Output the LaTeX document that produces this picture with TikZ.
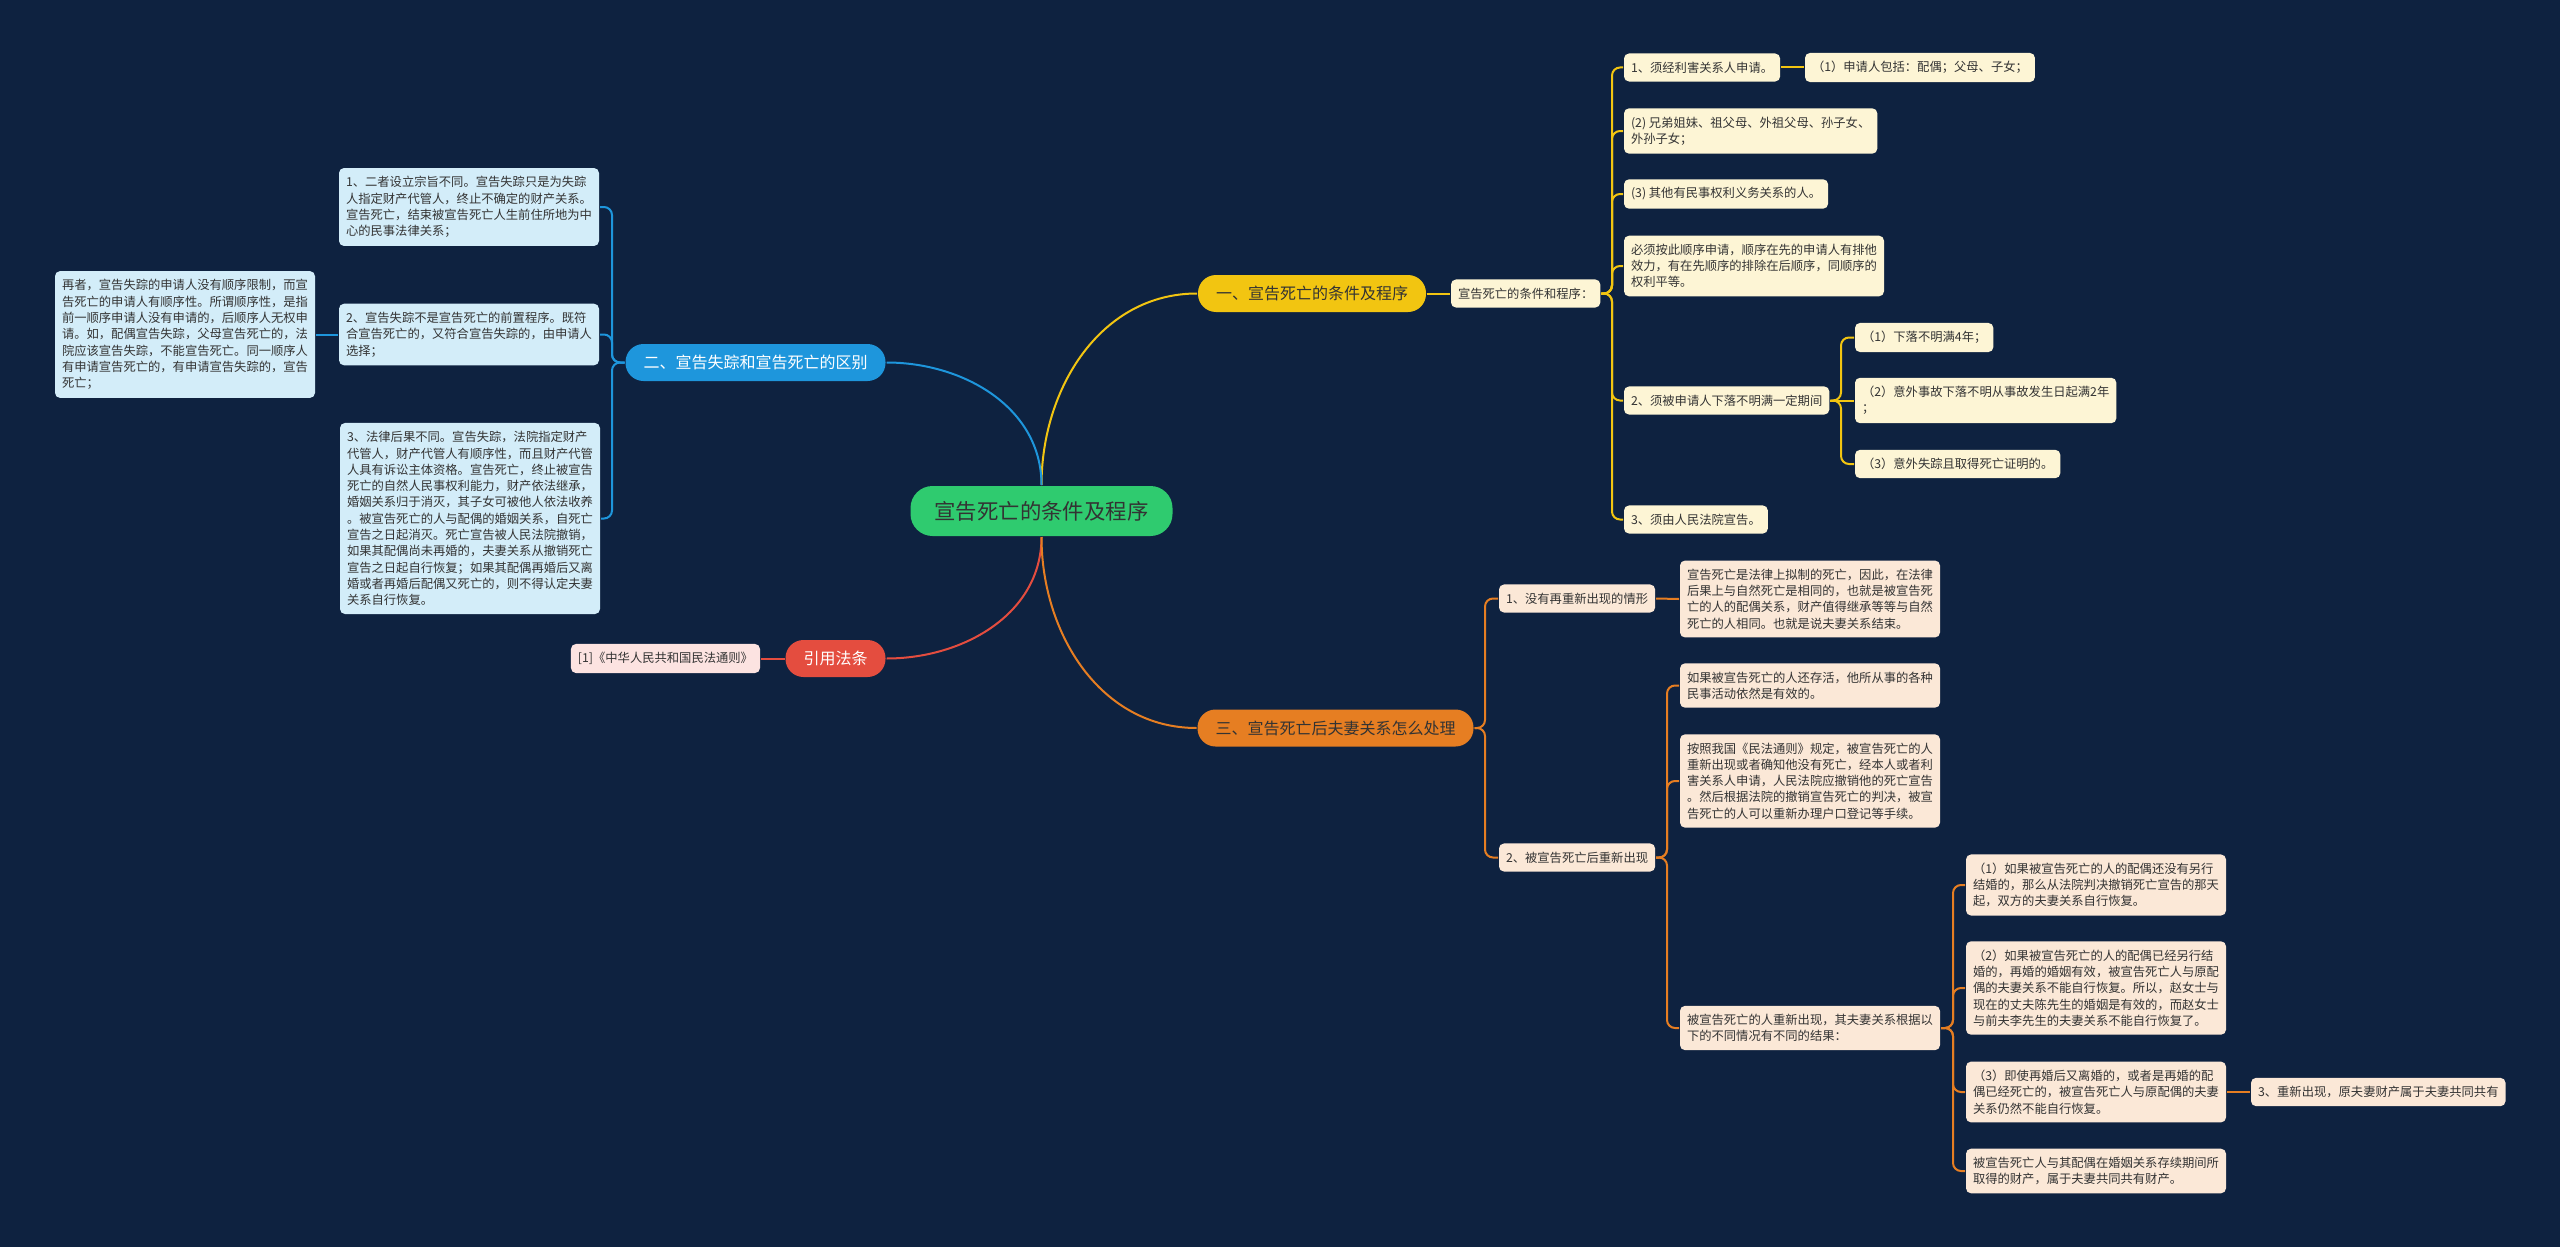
\documentclass[tikz,border=0pt]{standalone}
\usepackage{fontspec}
\setmainfont{Noto Sans CJK SC}
\usepackage{tikz}
\usetikzlibrary{positioning}
\definecolor{bgnavy}{HTML}{0E2240}
\definecolor{rootgreen}{HTML}{2FCB6F}
\definecolor{topyellow}{HTML}{F2C511}
\definecolor{topblue}{HTML}{1E96DC}
\definecolor{topred}{HTML}{E44D3F}
\definecolor{toporange}{HTML}{E67E22}
\definecolor{leafyellow}{HTML}{FDF5D5}
\definecolor{leafblue}{HTML}{D3EDF9}
\definecolor{leafred}{HTML}{FCE3E1}
\definecolor{leaforange}{HTML}{FBE8D7}
\definecolor{leaftext}{HTML}{333333}

\begin{document}
\begin{tikzpicture}[x=1pt, y=-1pt, line width=2pt,
  leaf/.style={rounded corners=5pt, align=left, anchor=west, inner xsep=7pt, inner ysep=8.3pt, text=leaftext, font=\fontsize{12.3}{16.3}\selectfont},
  topic/.style={rounded corners=18pt, minimum height=37pt, inner xsep=18pt, inner ysep=0pt, font=\fontsize{16}{18}\selectfont},
  elbow/.style={rounded corners=8pt},
  yline/.style={draw=topyellow},
  bline/.style={draw=topblue},
  rline/.style={draw=topred},
  oline/.style={draw=toporange}]
   \useasboundingbox (0,0) rectangle (2560,1247);
   \fill[bgnavy] (0,0) rectangle (2560,1247);

   % root and main topics
   \node[fill=rootgreen, rounded corners=22pt, minimum height=50pt, inner xsep=24pt, text=leaftext, font=\fontsize{21.4}{24}\selectfont] (root) at (1041.5,511) {宣告死亡的条件及程序};
   \node[topic, fill=topyellow, text=leaftext] (t1) at (1312,293.5) {一、宣告死亡的条件及程序};
   \node[topic, fill=topblue, text=white] (t2) at (755.5,362.5) {二、宣告失踪和宣告死亡的区别};
   \node[topic, fill=toporange, text=leaftext] (t3) at (1335.5,728) {三、宣告死亡后夫妻关系怎么处理};
   \node[topic, fill=topred, text=white] (t4) at (835.5,658.5) {引用法条};

   \begin{scope}[every node/.style={leaf, fill=leafyellow}]
    \node (p) at (1450,293.5) {宣告死亡的条件和程序：};
    \node (a1) at (1623,67.5) {1、须经利害关系人申请。};
    \node (a1a) at (1804,67.5) {（1）申请人包括：配偶；父母、子女；};
    \node (a2) at (1623,131) {(2) 兄弟姐妹、祖父母、外祖父母、孙子女、\\外孙子女；};
    \node (a3) at (1623,194) {(3) 其他有民事权利义务关系的人。};
    \node (a4) at (1623,266) {必须按此顺序申请，顺序在先的申请人有排他\\效力，有在先顺序的排除在后顺序，同顺序的\\权利平等。};
    \node (b) at (1623,400.5) {2、须被申请人下落不明满一定期间};
    \node (b1) at (1854,337.5) {（1）下落不明满4年；};
    \node (b2) at (1854,400.5) {（2）意外事故下落不明从事故发生日起满2年\\；};
    \node (b3) at (1854,464) {（3）意外失踪且取得死亡证明的。};
    \node (c) at (1623,519.5) {3、须由人民法院宣告。};
   \end{scope}

   \begin{scope}[every node/.style={leaf, fill=leafblue, anchor=east}]
    \node (l1) at (600,207) {1、二者设立宗旨不同。宣告失踪只是为失踪\\人指定财产代管人，终止不确定的财产关系。\\宣告死亡，结束被宣告死亡人生前住所地为中\\心的民事法律关系；};
    \node (l2) at (600,334.5) {2、宣告失踪不是宣告死亡的前置程序。既符\\合宣告死亡的，又符合宣告失踪的，由申请人\\选择；};
    \node (lz) at (316,334.5) {再者，宣告失踪的申请人没有顺序限制，而宣\\告死亡的申请人有顺序性。所谓顺序性，是指\\前一顺序申请人没有申请的，后顺序人无权申\\请。如，配偶宣告失踪，父母宣告死亡的，法\\院应该宣告失踪，不能宣告死亡。同一顺序人\\有申请宣告死亡的，有申请宣告失踪的，宣告\\死亡；};
    \node (l3) at (601,518.5) {3、法律后果不同。宣告失踪，法院指定财产\\代管人，财产代管人有顺序性，而且财产代管\\人具有诉讼主体资格。宣告死亡，终止被宣告\\死亡的自然人民事权利能力，财产依法继承，\\婚姻关系归于消灭，其子女可被他人依法收养\\。被宣告死亡的人与配偶的婚姻关系，自死亡\\宣告之日起消灭。死亡宣告被人民法院撤销，\\如果其配偶尚未再婚的，夫妻关系从撤销死亡\\宣告之日起自行恢复；如果其配偶再婚后又离\\婚或者再婚后配偶又死亡的，则不得认定夫妻\\关系自行恢复。};
   \end{scope}

   \node[leaf, fill=leafred, anchor=east] (ref) at (761,658.5) {[1]《中华人民共和国民法通则》};

   \begin{scope}[every node/.style={leaf, fill=leaforange}]
    \node (d1) at (1498,598.5) {1、没有再重新出现的情形};
    \node (d1a) at (1679,599) {宣告死亡是法律上拟制的死亡，因此，在法律\\后果上与自然死亡是相同的，也就是被宣告死\\亡的人的配偶关系，财产值得继承等等与自然\\死亡的人相同。也就是说夫妻关系结束。};
    \node (e) at (1498,857.5) {2、被宣告死亡后重新出现};
    \node (e1) at (1679,685.5) {如果被宣告死亡的人还存活，他所从事的各种\\民事活动依然是有效的。};
    \node (e2) at (1679,781) {按照我国《民法通则》规定，被宣告死亡的人\\重新出现或者确知他没有死亡，经本人或者利\\害关系人申请，人民法院应撤销他的死亡宣告\\。然后根据法院的撤销宣告死亡的判决，被宣\\告死亡的人可以重新办理户口登记等手续。};
    \node (f) at (1679,1028) {被宣告死亡的人重新出现，其夫妻关系根据以\\下的不同情况有不同的结果：};
    \node (g1) at (1965,885) {（1）如果被宣告死亡的人的配偶还没有另行\\结婚的，那么从法院判决撤销死亡宣告的那天\\起，双方的夫妻关系自行恢复。};
    \node (g2) at (1965,988) {（2）如果被宣告死亡的人的配偶已经另行结\\婚的，再婚的婚姻有效，被宣告死亡人与原配\\偶的夫妻关系不能自行恢复。所以，赵女士与\\现在的丈夫陈先生的婚姻是有效的，而赵女士\\与前夫李先生的夫妻关系不能自行恢复了。};
    \node (g3) at (1965,1092) {（3）即使再婚后又离婚的，或者是再婚的配\\偶已经死亡的，被宣告死亡人与原配偶的夫妻\\关系仍然不能自行恢复。};
    \node (g3a) at (2250,1092) {3、重新出现，原夫妻财产属于夫妻共同共有};
    \node (g4) at (1965,1171) {被宣告死亡人与其配偶在婚姻关系存续期间所\\取得的财产，属于夫妻共同共有财产。};
   \end{scope}

   % spines
   \coordinate (ys1) at (1612,0);
   \coordinate (ys2) at (1841,0);
   \coordinate (bs) at (612,0);
   \coordinate (os1) at (1485,0);
   \coordinate (os2) at (1667,0);
   \coordinate (os3) at (1953,0);

   % root to topics
   \draw[yline] (root.north) to[out=90,in=180] (t1.west);
   \draw[bline] (root.north) to[out=90,in=0] (t2.east);
   \draw[rline] (root.south) to[out=-90,in=0] (t4.east);
   \draw[oline] (root.south) to[out=-90,in=180] (t3.west);

   % yellow branch
   \draw[yline] (t1.east) -- (p.west);
   \foreach \c in {a1,a2,a3,a4,b,c}
    \draw[yline, elbow] (p.east) -- (p.east -| ys1) |- (\c.west);
   \draw[yline] (a1.east) -- (a1a.west);
   \foreach \c in {b1,b3}
    \draw[yline, elbow] (b.east) -- (b.east -| ys2) |- (\c.west);
   \draw[yline] (b.east) -- (b2.west);

   % blue branch
   \foreach \c in {l1,l2,l3}
    \draw[bline, elbow] (t2.west) -- (t2.west -| bs) |- (\c.east);
   \draw[bline] (lz.east) -- (l2.west);

   % red branch
   \draw[rline] (ref.east) -- (t4.west);

   % orange branch
   \foreach \c in {d1,e}
    \draw[oline, elbow] (t3.east) -- (t3.east -| os1) |- (\c.west);
   \draw[oline] (d1.east) -- (d1a.west);
   \foreach \c in {e1,e2,f}
    \draw[oline, elbow] (e.east) -- (e.east -| os2) |- (\c.west);
   \foreach \c in {g1,g2,g3,g4}
    \draw[oline, elbow] (f.east) -- (f.east -| os3) |- (\c.west);
   \draw[oline] (g3.east) -- (g3a.west);
\end{tikzpicture}
\end{document}
